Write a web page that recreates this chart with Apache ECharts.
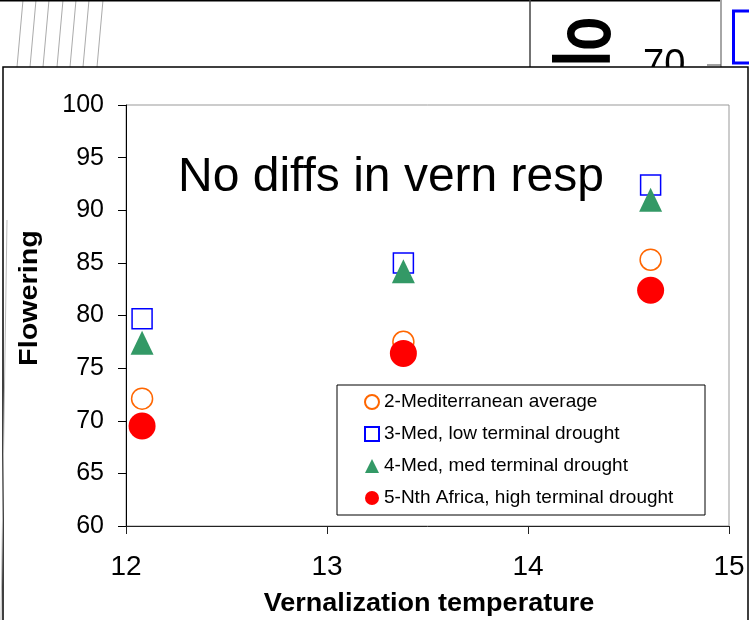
<!DOCTYPE html>
<html>
<head>
<meta charset="utf-8">
<title>Flowering vs vernalization temperature</title>
<script src="https://cdn.jsdelivr.net/npm/echarts@6/dist/echarts.min.js"></script>
<style>
  html, body { margin: 0; padding: 0; background: #fff; }
  #chart { width: 749px; height: 620px; }
</style>
</head>
<body>
<div id="chart"></div>
<script>
// values
const seriesNames = ['2-Mediterranean average', '3-Med, low terminal drought', '4-Med, med terminal drought', '5-Nth Africa, high terminal drought']
const vernTemp = [12.08, 13.38, 14.61]
const medAverage = [72.1, 77.5, 85.3]
const medLowDrought = [79.7, 85.0, 92.4]
const medMedDrought = [77.4, 84.2, 91.0]
const nthAfrica = [69.5, 76.4, 82.4]
const xTicks = [12, 13, 14, 15]
const yTicks = [60, 65, 70, 75, 80, 85, 90, 95, 100]

const font = '"Liberation Sans", Arial, sans-serif'

function pairs (ys) {
    return vernTemp.map(function (x, i) { return [x, ys[i]] })
}

// bits of the slide behind the chart, poking out at the top
let backdrop = []
const hatchTop = [23, 36, 49, 63, 76, 89, 103]
hatchTop.forEach(function (x) {
    backdrop.push({ type: 'line', z: -5, shape: { x1: x, y1: 0, x2: x - 6, y2: 67 }, style: { stroke: '#aaa', lineWidth: 1 } })
})
backdrop.push(
    { type: 'line', z: -5, shape: { x1: 0, y1: 0.5, x2: 720, y2: 0.5 }, style: { stroke: '#000', lineWidth: 2 } },
    { type: 'line', z: -5, shape: { x1: 530, y1: 0, x2: 530, y2: 67 }, style: { stroke: '#444', lineWidth: 1.5 } },
    { type: 'line', z: -5, shape: { x1: 721, y1: 0, x2: 721, y2: 67 }, style: { stroke: '#888', lineWidth: 1.5 } },
    { type: 'line', z: -5, shape: { x1: 707, y1: 65, x2: 721, y2: 65 }, style: { stroke: '#444', lineWidth: 1 } },
    { type: 'rect', z: -5, shape: { x: 733.5, y: 11, width: 40, height: 52 }, style: { fill: '#fff', stroke: '#0000ff', lineWidth: 3 } },
    { type: 'text', z: -5, x: 588, y: 100, rotation: Math.PI / 2, scaleX: 0.7,
      style: { text: 'Flo', font: 'bold 79px ' + font, fill: '#000', align: 'left', textAlign: 'left', verticalAlign: 'middle', textVerticalAlign: 'middle' } },
    { type: 'text', z: -5, x: 643, y: 66,
      style: { text: '70', font: '38px ' + font, fill: '#000', align: 'left', textAlign: 'left', verticalAlign: 'middle', textVerticalAlign: 'middle' } },
    // the chart's own frame
    { type: 'rect', z: -4, shape: { x: 3, y: 67, width: 745, height: 600 }, style: { fill: '#fff', stroke: '#000', lineWidth: 1.5 } },
    { type: 'line', z: -3, shape: { x1: 7, y1: 220, x2: 1, y2: 620 }, style: { stroke: '#bbb', lineWidth: 1 } }
)

let labels = [
    { type: 'text', z: 5, x: 391, y: 178,
      style: { text: 'No diffs in vern resp', font: '48px ' + font, fill: '#000', align: 'center', textAlign: 'center', verticalAlign: 'middle', textVerticalAlign: 'middle' } },
    { type: 'text', z: 5, x: 30, y: 298, rotation: Math.PI / 2, scaleX: 1.15,
      style: { text: 'Flowering', font: 'bold 25px ' + font, fill: '#000', align: 'center', textAlign: 'center', verticalAlign: 'middle', textVerticalAlign: 'middle' } },
    { type: 'text', z: 5, x: 429, y: 604, scaleX: 1.04,
      style: { text: 'Vernalization temperature', font: 'bold 26px ' + font, fill: '#000', align: 'center', textAlign: 'center', verticalAlign: 'middle', textVerticalAlign: 'middle' } },
    { type: 'rect', z: 1, shape: { x: 337, y: 385, width: 368, height: 130 }, style: { fill: 'none', stroke: '#000', lineWidth: 1 } }
]

let myChart = echarts.init(document.getElementById('chart'), null, { renderer: 'canvas' })
let option = {
    animation: false,
    backgroundColor: '#fff',
    textStyle: { fontFamily: font },
    grid: {
        left: 126,
        top: 105,
        width: 603,
        height: 421,
        show: true,
        borderColor: '#999',
        borderWidth: 1,
        containLabel: false,
        outerBoundsMode: 'none'
    },
    legend: {
        orient: 'vertical',
        left: 364,
        top: 392,
        padding: 0,
        itemGap: 12,
        itemWidth: 14,
        itemHeight: 14,
        textStyle: { fontSize: 19, lineHeight: 20, color: '#000', fontFamily: font },
        data: seriesNames
    },
    xAxis: {
        type: 'value',
        min: xTicks[0],
        max: xTicks[xTicks.length - 1],
        interval: 1,
        axisLine: { show: true, onZero: false, lineStyle: { color: '#222', width: 1 } },
        axisTick: { show: true, inside: false, length: 8, lineStyle: { color: '#222' } },
        axisLabel: { show: true, fontSize: 28, margin: 27, color: '#000', fontFamily: font },
        splitLine: { show: false }
    },
    yAxis: {
        type: 'value',
        min: yTicks[0],
        max: yTicks[yTicks.length - 1],
        interval: 5,
        axisLine: { show: true, onZero: false, lineStyle: { color: '#000', width: 1 } },
        axisTick: { show: true, inside: false, length: 8, lineStyle: { color: '#000' } },
        axisLabel: { show: true, fontSize: 25, margin: 22, color: '#000', fontFamily: font },
        splitLine: { show: false }
    },
    series: [
        {
            name: seriesNames[0],
            type: 'scatter',
            symbol: 'circle',
            symbolSize: 21,
            itemStyle: { color: 'rgba(255,255,255,0)', borderColor: '#ff6600', borderWidth: 1.5, opacity: 1 },
            data: pairs(medAverage)
        },
        {
            name: seriesNames[1],
            type: 'scatter',
            symbol: 'rect',
            symbolSize: 20,
            itemStyle: { color: 'rgba(255,255,255,0)', borderColor: '#0000ff', borderWidth: 1.5, opacity: 1 },
            data: pairs(medLowDrought)
        },
        {
            name: seriesNames[2],
            type: 'scatter',
            symbol: 'triangle',
            symbolSize: [23, 24],
            itemStyle: { color: '#339966', opacity: 1 },
            data: pairs(medMedDrought)
        },
        {
            name: seriesNames[3],
            type: 'scatter',
            symbol: 'circle',
            symbolSize: 27,
            itemStyle: { color: '#ff0000', opacity: 1 },
            data: pairs(nthAfrica)
        }
    ],
    graphic: backdrop.concat(labels)
}
myChart.setOption(option)
</script>
</body>
</html>
